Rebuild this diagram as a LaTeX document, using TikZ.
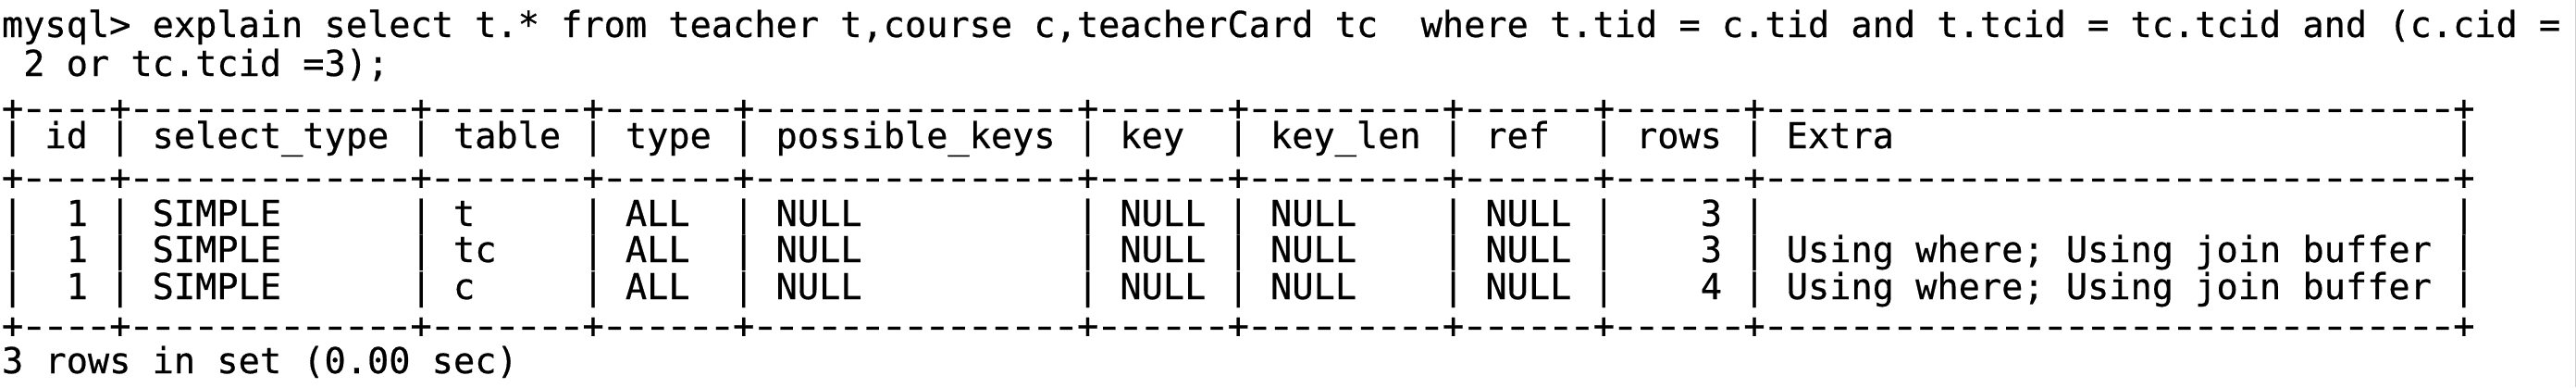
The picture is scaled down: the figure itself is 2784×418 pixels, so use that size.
\documentclass[tikz,border=0pt]{standalone}
\usepackage{fontspec}
\setmonofont{DejaVu Sans Mono}[FakeBold=0.5]
\newcommand\tspc[1]{\hskip#1\fontcharwd\font`0\relax}
\newcommand\dashes[1]{\foreach\n in {1,...,#1}{\hbox to \fontcharwd\font`0{\hss\scalebox{1.35}[1]{-}\hss}}}
\newcommand\sepline{+\foreach\w in {4,13,7,6,15,6,9,6,6,32}{\dashes{\w}+}}
\tikzset{termline/.style={anchor=base west, inner sep=0pt, outer sep=0pt, text=black,
    font=\ttfamily\fontsize{38.6}{40}\selectfont}}

\begin{document}
\begin{tikzpicture}[x=1pt,y=-1pt]
		%%%%% START %%%%%
		\useasboundingbox[fill=white] (0,0) rectangle (2784,418);
		\draw[black!18, line width=1.2pt] (2783.4,0) -- (2783.4,418);
		
		\node[termline] (query) at (2,40) {mysql>~explain~select~t.*~from~teacher~t,course~c,teacherCard~tc\tspc{2}where~t.tid~=~c.tid~and~t.tcid~=~tc.tcid~and~(c.cid~=};
		\node[termline] (wrap) at (2,82) {~2~or~tc.tcid~=3);};
		
		\node[termline] (septop) at (2,130) {\sepline};
		\node[termline] (head) at (2,160) {|~id~|~select\_type~|~table~|~type~|~possible\_keys~|~key\tspc{2}|~key\_len~|~ref\tspc{2}|~rows~|~Extra\tspc{26}|};
		\node[termline] (sepmid) at (2,205) {\sepline};
		
		\node[termline] (rowt) at (2,244) {|\tspc{2}1~|~SIMPLE\tspc{6}|~t\tspc{5}|~ALL\tspc{2}|~NULL\tspc{10}|~NULL~|~NULL\tspc{4}|~NULL~|\tspc{4}3~|\tspc{32}|};
		\node[termline] (rowtc) at (2,283) {|\tspc{2}1~|~SIMPLE\tspc{6}|~tc\tspc{4}|~ALL\tspc{2}|~NULL\tspc{10}|~NULL~|~NULL\tspc{4}|~NULL~|\tspc{4}3~|~Using~where;~Using~join~buffer~|};
		\node[termline] (rowc) at (2,323) {|\tspc{2}1~|~SIMPLE\tspc{6}|~c\tspc{5}|~ALL\tspc{2}|~NULL\tspc{10}|~NULL~|~NULL\tspc{4}|~NULL~|\tspc{4}4~|~Using~where;~Using~join~buffer~|};
		\node[termline] (sepbot) at (2,365) {\sepline};
		
		\node[termline] (status) at (2,403) {3~rows~in~set~(0.00~sec)};
		%%%%% END %%%%%
	\end{tikzpicture}
\end{document}
